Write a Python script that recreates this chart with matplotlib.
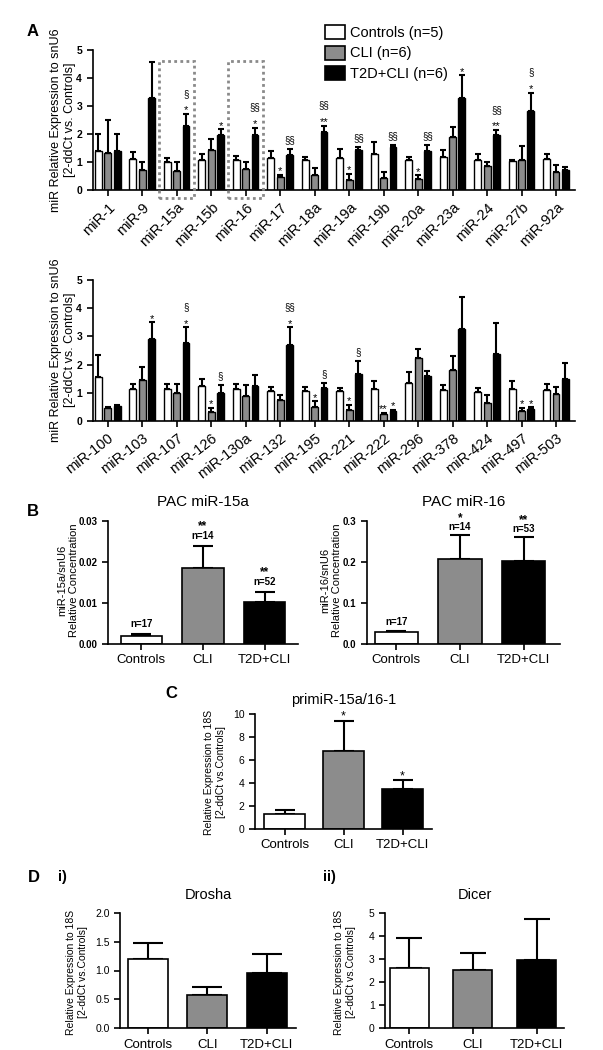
import matplotlib
matplotlib.use('Agg')
import matplotlib.pyplot as plt
import numpy as np
from matplotlib.patches import Patch, Rectangle

plt.rcParams['font.family'] = ['Liberation Sans', 'DejaVu Sans']

# ---------------- data ----------------
group_labels = ['Controls (n=5)', 'CLI (n=6)', 'T2D+CLI (n=6)']
bar_colors = ['white', '#8c8c8c', 'black']

mirs_a1 = ['miR-1', 'miR-9', 'miR-15a', 'miR-15b', 'miR-16', 'miR-17', 'miR-18a',
           'miR-19a', 'miR-19b', 'miR-20a', 'miR-23a', 'miR-24', 'miR-27b', 'miR-92a']
ctrl_a1 = [1.40, 1.10, 1.01, 1.08, 1.06, 1.13, 1.06, 1.14, 1.27, 1.06, 1.17, 1.07, 1.03, 1.10]
ctrl_a1_err = [0.60, 0.24, 0.14, 0.20, 0.14, 0.27, 0.13, 0.32, 0.46, 0.13, 0.26, 0.20, 0.03, 0.17]
cli_a1 = [1.32, 0.71, 0.69, 1.42, 0.74, 0.45, 0.55, 0.36, 0.42, 0.38, 1.88, 0.86, 1.06, 0.64]
cli_a1_err = [1.18, 0.30, 0.32, 0.40, 0.25, 0.10, 0.23, 0.21, 0.24, 0.14, 0.36, 0.15, 0.51, 0.25]
t2d_a1 = [1.41, 3.29, 2.27, 1.98, 1.98, 1.25, 2.07, 1.42, 1.52, 1.40, 3.30, 1.96, 2.82, 0.72]
t2d_a1_err = [0.59, 1.29, 0.44, 0.19, 0.25, 0.23, 0.23, 0.12, 0.08, 0.20, 0.80, 0.18, 0.66, 0.10]
sig_cli_a1 = {'miR-17': ['*'], 'miR-19a': ['*'], 'miR-20a': ['*']}
sig_t2d_a1 = {'miR-15a': ['*', '§'], 'miR-15b': ['*'], 'miR-16': ['*', '§§'],
              'miR-17': ['§§'], 'miR-18a': ['**', '§§'], 'miR-19a': ['§§'],
              'miR-19b': ['§§'], 'miR-20a': ['§§'], 'miR-23a': ['*'],
              'miR-24': ['**', '§§'], 'miR-27b': ['*', '§']}
boxed_a1 = ['miR-15a', 'miR-16']

mirs_a2 = ['miR-100', 'miR-103', 'miR-107', 'miR-126', 'miR-130a', 'miR-132', 'miR-195',
           'miR-221', 'miR-222', 'miR-296', 'miR-378', 'miR-424', 'miR-497', 'miR-503']
ctrl_a2 = [1.57, 1.12, 1.12, 1.23, 1.12, 1.06, 1.07, 1.05, 1.14, 1.33, 1.09, 1.04, 1.14, 1.10]
ctrl_a2_err = [0.76, 0.20, 0.18, 0.27, 0.18, 0.13, 0.13, 0.13, 0.28, 0.39, 0.18, 0.12, 0.28, 0.20]
cli_a2 = [0.45, 1.44, 0.98, 0.33, 0.87, 0.76, 0.50, 0.39, 0.24, 2.25, 1.82, 0.64, 0.36, 0.95]
cli_a2_err = [0.04, 0.48, 0.32, 0.14, 0.42, 0.15, 0.20, 0.18, 0.06, 0.29, 0.49, 0.27, 0.11, 0.26]
t2d_a2 = [0.53, 2.90, 2.75, 1.00, 1.24, 2.70, 1.18, 1.67, 0.36, 1.60, 3.26, 2.37, 0.41, 1.50]
t2d_a2_err = [0.03, 0.60, 0.57, 0.28, 0.40, 0.62, 0.17, 0.46, 0.04, 0.18, 1.12, 1.11, 0.08, 0.54]
sig_cli_a2 = {'miR-126': ['*'], 'miR-195': ['*'], 'miR-221': ['*'], 'miR-222': ['**'], 'miR-497': ['*']}
sig_t2d_a2 = {'miR-103': ['*'], 'miR-107': ['*', '§'], 'miR-126': ['§'], 'miR-132': ['*', '§§'],
              'miR-195': ['§'], 'miR-221': ['§'], 'miR-222': ['*'], 'miR-497': ['*']}

cats = ['Controls', 'CLI', 'T2D+CLI']
pac15a = [0.0019, 0.0185, 0.0102]
pac15a_err = [0.0005, 0.0054, 0.0026]
pac15a_n = ['n=17', 'n=14', 'n=52']
pac15a_sig = ['', '**', '**']
pac16 = [0.029, 0.208, 0.202]
pac16_err = [0.003, 0.057, 0.058]
pac16_n = ['n=17', 'n=14', 'n=53']
pac16_sig = ['', '*', '**']

primir = [1.30, 6.75, 3.48]
primir_err = [0.38, 2.62, 0.75]
primir_sig = ['', '*', '*']

drosha = [1.20, 0.57, 0.96]
drosha_err = [0.28, 0.14, 0.32]
dicer = [2.60, 2.52, 2.95]
dicer_err = [1.30, 0.73, 1.77]

# ---------------- figure ----------------
W, H = 603, 1050
fig = plt.figure(figsize=(W / 100, H / 100), dpi=100)


def axes_px(x0, x1, ytop, ybot):
    return fig.add_axes([x0 / W, 1 - ybot / H, (x1 - x0) / W, (ybot - ytop) / H])


def style(ax, lw=1.2):
    for s in ['top', 'right']:
        ax.spines[s].set_visible(False)
    for s in ['left', 'bottom']:
        ax.spines[s].set_linewidth(lw)
    ax.tick_params(direction='out', width=lw, length=4)


def ftext(px, py, s, **kw):
    fig.text(px / W, 1 - py / H, s, **kw)


def panel_a(ax, names, vals, errs, sig_cli, sig_t2d, rot):
    n = len(names)
    x = np.arange(n)
    offs = [-0.272, 0.0, 0.272]
    sigs = [{}, sig_cli, sig_t2d]
    for k in range(3):
        v = np.array(vals[k])
        e = np.array(errs[k])
        ax.bar(x + offs[k], v, width=0.2, color=bar_colors[k], edgecolor='black',
               linewidth=1.0, zorder=2)
        ax.errorbar(x + offs[k], v, yerr=[np.zeros(n), e], fmt='none', ecolor='black',
                    elinewidth=1.5, capsize=2.2, capthick=1.5, zorder=1)
        for name, lines in sigs[k].items():
            i = names.index(name)
            top = v[i] + e[i]
            base = None
            for j, s in enumerate(lines):
                if j == 0:
                    base = top + (0.02 if '*' in s else 0.2)
                else:
                    base = base + 0.6
                ax.text(x[i] + offs[k], base, s, ha='center', va='baseline',
                        fontsize=8 if '*' in s else 7)
    ax.set_xlim(-0.44, n - 0.45)
    ax.set_ylim(0, 5)
    ax.set_yticks([0, 1, 2, 3, 4, 5])
    ax.set_yticklabels(['0', '1', '2', '3', '4', '5'], fontsize=7.5, fontweight='bold')
    ax.set_xticks(x)
    ax.set_xticklabels(names, rotation=rot, ha='right', rotation_mode='anchor', fontsize=10.5)
    style(ax, 1.2)


# Panel A (top)
axA1 = axes_px(92.5, 575, 50, 190)
panel_a(axA1, mirs_a1, [ctrl_a1, cli_a1, t2d_a1], [ctrl_a1_err, cli_a1_err, t2d_a1_err],
        sig_cli_a1, sig_t2d_a1, 45)
for name in boxed_a1:
    i = mirs_a1.index(name)
    axA1.add_patch(Rectangle((i - 0.5, -0.3), 1.0, 4.92, fill=False, edgecolor='#8a8a8a',
                             linestyle=(0, (1, 1.2)), linewidth=2.0, clip_on=False, zorder=3))

# Panel A (bottom)
axA2 = axes_px(92.5, 575, 280, 421)
panel_a(axA2, mirs_a2, [ctrl_a2, cli_a2, t2d_a2], [ctrl_a2_err, cli_a2_err, t2d_a2_err],
        sig_cli_a2, sig_t2d_a2, 38)

ylab_a = 'miR Relative Expression to snU6\n[2-ddCt vs. Controls]'
ftext(63, 120, ylab_a, rotation=90, ha='center', va='center', fontsize=9, linespacing=1.3)
ftext(63, 350, ylab_a, rotation=90, ha='center', va='center', fontsize=9, linespacing=1.3)

handles = [Patch(facecolor=c, edgecolor='black', linewidth=1.2, label=l)
           for c, l in zip(bar_colors, group_labels)]
fig.legend(handles=handles, loc='upper left', bbox_to_anchor=(325 / W, 1 - 25 / H),
           frameon=False, fontsize=10.5, handlelength=1.35, handleheight=1.1,
           handletextpad=0.35, labelspacing=0.38, borderpad=0, borderaxespad=0)


def simple_bars(ax, vals, errs, width, capsize, xlim):
    x = np.arange(len(vals))
    ax.bar(x, vals, width=width, color=bar_colors, edgecolor='black', linewidth=1.2, zorder=2)
    ax.errorbar(x, vals, yerr=[np.zeros(len(vals)), errs], fmt='none', ecolor='black',
                elinewidth=1.5, capsize=capsize, capthick=1.5, zorder=1)
    ax.set_xlim(*xlim)
    ax.set_xticks(x)
    ax.set_xticklabels(cats, fontsize=9.5)
    style(ax, 1.2)
    return x


# Panel B
axB1 = axes_px(108, 298, 521, 644)
x = simple_bars(axB1, pac15a, pac15a_err, 0.665, 7, (-0.54, 2.54))
axB1.set_ylim(0, 0.03)
axB1.set_yticks([0, 0.01, 0.02, 0.03])
axB1.set_yticklabels(['0.00', '0.01', '0.02', '0.03'], fontsize=7, fontweight='bold')
for i in range(3):
    top = pac15a[i] + pac15a_err[i]
    axB1.annotate(pac15a_n[i], (x[i], top), xytext=(0, 5), textcoords='offset points',
                  ha='center', va='baseline', fontsize=7, fontweight='bold')
    if pac15a_sig[i]:
        axB1.annotate(pac15a_sig[i], (x[i], top), xytext=(0, 12), textcoords='offset points',
                      ha='center', va='baseline', fontsize=8.5, fontweight='bold')
axB1.set_title('PAC miR-15a', fontsize=11, pad=11)

axB2 = axes_px(367, 560, 521, 644)
x = simple_bars(axB2, pac16, pac16_err, 0.68, 7, (-0.46, 2.57))
axB2.set_ylim(0, 0.3)
axB2.set_yticks([0, 0.1, 0.2, 0.3])
axB2.set_yticklabels(['0.0', '0.1', '0.2', '0.3'], fontsize=7, fontweight='bold')
for i in range(3):
    top = pac16[i] + pac16_err[i]
    axB2.annotate(pac16_n[i], (x[i], top), xytext=(0, 4), textcoords='offset points',
                  ha='center', va='baseline', fontsize=7, fontweight='bold')
    if pac16_sig[i]:
        axB2.annotate(pac16_sig[i], (x[i], top), xytext=(0, 10.5), textcoords='offset points',
                      ha='center', va='baseline', fontsize=8.5, fontweight='bold')
axB2.set_title('PAC miR-16', fontsize=11, pad=11)

ftext(68, 580, 'miR-15a/snU6\nRelative Concentration', rotation=90, ha='center',
      va='center', fontsize=8, linespacing=1.3)
ftext(331, 580, 'miR-16/snU6\nRelative Concentration', rotation=90, ha='center',
      va='center', fontsize=8, linespacing=1.3)

# Panel C
axC = axes_px(255, 432, 714, 829)
x = simple_bars(axC, primir, primir_err, 0.68, 7.5, (-0.5, 2.5))
axC.set_ylim(0, 10)
axC.set_yticks([0, 2, 4, 6, 8, 10])
axC.tick_params(axis='y', labelsize=7.5)
for i in range(3):
    if primir_sig[i]:
        top = primir[i] + primir_err[i]
        axC.annotate(primir_sig[i], (x[i], top), xytext=(0, 1), textcoords='offset points',
                     ha='center', va='baseline', fontsize=9)
axC.set_title('primiR-15a/16-1', fontsize=10.5, pad=7)
ylab_cd = 'Relative Expression to 18S\n[2-ddCt vs.Controls]'
ftext(215, 772, ylab_cd, rotation=90, ha='center', va='center', fontsize=7.5, linespacing=1.3)

# Panel D
axD1 = axes_px(120, 296, 912.7, 1028.3)
simple_bars(axD1, drosha, drosha_err, 0.67, 10.5, (-0.47, 2.49))
axD1.set_ylim(0, 2.0)
axD1.set_yticks([0, 0.5, 1.0, 1.5, 2.0])
axD1.set_yticklabels(['0.0', '0.5', '1.0', '1.5', '2.0'], fontsize=7.5)
axD1.set_title('Drosha', fontsize=10.5, pad=10)
ftext(77, 972, ylab_cd, rotation=90, ha='center', va='center', fontsize=7.5, linespacing=1.3)

axD2 = axes_px(385, 564, 912.7, 1028.3)
simple_bars(axD2, dicer, dicer_err, 0.61, 9.5, (-0.38, 2.43))
axD2.set_ylim(0, 5)
axD2.set_yticks([0, 1, 2, 3, 4, 5])
axD2.tick_params(axis='y', labelsize=7.5)
axD2.set_title('Dicer', fontsize=10.5, pad=10)
ftext(345, 972, ylab_cd, rotation=90, ha='center', va='center', fontsize=7.5, linespacing=1.3)

# Panel letters
ftext(33, 32, 'A', fontsize=12, fontweight='bold', ha='center', va='center')
ftext(33, 511, 'B', fontsize=12, fontweight='bold', ha='center', va='center')
ftext(171, 693, 'C', fontsize=12, fontweight='bold', ha='center', va='center')
ftext(34, 877, 'D', fontsize=12, fontweight='bold', ha='center', va='center')
ftext(62, 877, 'i)', fontsize=10.5, fontweight='bold', ha='center', va='center')
ftext(329, 877, 'ii)', fontsize=10.5, fontweight='bold', ha='center', va='center')

fig.savefig('out.png', dpi=100)
